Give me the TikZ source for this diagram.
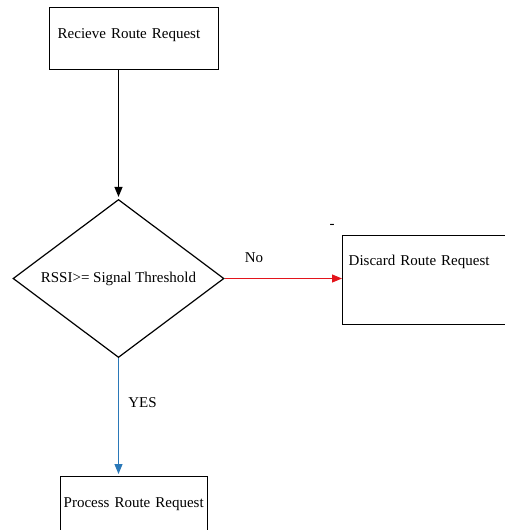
\documentclass[tikz,border=0pt]{standalone}
\usepackage{fontspec}
\setmainfont{Liberation Serif}
\usepackage{xcolor}
\usepackage{tikz}
\usetikzlibrary{positioning, arrows.meta, calc, shapes.geometric}
\definecolor{noarrow}{HTML}{E3141B}
\definecolor{yesarrow}{HTML}{2A78B8}

\begin{document}
\begin{tikzpicture}[x=1pt, y=-1pt, font=\fontsize{15}{17}\selectfont,
    box/.style={draw, line width=1.4pt, anchor=north west, align=left, inner ysep=0pt},
    flow/.style={-{Triangle[length=10pt, width=8pt]}, line width=1.1pt}]
  \useasboundingbox (0,0) rectangle (504,530);
  \node[box, inner xsep=8pt, text width=153pt, text height=31pt, text depth=31pt] (recv) at (49,7)
    {Recieve Route Request};
  \node[draw, line width=1.2pt, diamond, shape aspect=1.33, minimum width=211pt, minimum height=158pt, inner sep=0pt] (check) at (118.5,278.5)
    {RSSI>= Signal Threshold};
  \node[box, inner xsep=6pt, text width=158pt, text height=30pt, text depth=59pt] (discard) at (342,235)
    {Discard Route Request};
  \node[box, inner xsep=3pt, text width=141pt, text height=31pt, text depth=44pt] (proc) at (60,476)
    {Process Route Request};
  \draw[flow, shorten >=2pt] (check.north |- recv.south) -- (check.north);
  \draw[flow, noarrow] (check.east) -- node[above=12pt, pos=0.25, text=black] (no) {No} (check.east -| discard.west);
  \draw[flow, yesarrow, shorten >=2pt] (check.south) -- node[right=6pt, pos=0.38, text=black] (yes) {YES} (check.south |- proc.north);
  \node (dash) at (332,226) {-};
\end{tikzpicture}
\end{document}
